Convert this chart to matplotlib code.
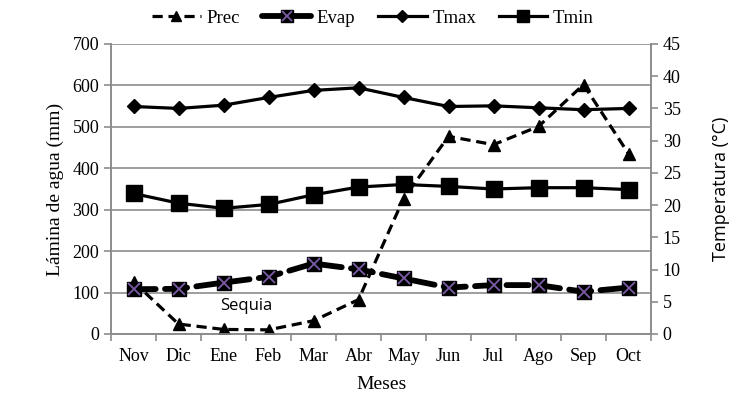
import numpy as np
import matplotlib
matplotlib.use("Agg")
import matplotlib.pyplot as plt
from matplotlib.legend_handler import HandlerTuple

# data
meses = ["Nov", "Dic", "Ene", "Feb", "Mar", "Abr", "May", "Jun", "Jul", "Ago", "Sep", "Oct"]
prec = [126, 24, 11, 10, 32, 83, 327, 477, 457, 501, 602, 435]      # mm
evap = [108, 109, 124, 138, 170, 156, 134, 112, 118, 118, 102, 112]  # mm
tmax = [35.3, 35.0, 35.5, 36.7, 37.8, 38.2, 36.7, 35.3, 35.4, 35.1, 34.8, 35.0]  # °C
tmin = [21.8, 20.3, 19.5, 20.1, 21.6, 22.8, 23.2, 22.9, 22.5, 22.7, 22.7, 22.4]  # °C
mm_ticks = list(range(0, 701, 100))
temp_ticks = list(range(0, 46, 5))

serif = "Liberation Serif"
sans = "Open Sans"
gray = "#8c8c8c"
purple = "#7b5aa6"

plt.rcParams["font.family"] = serif

x = np.arange(len(meses))

fig = plt.figure(figsize=(7.46, 4.08), dpi=100)
ax = fig.add_axes([0.1488, 0.1814, 0.7239, 0.7108])
ax2 = ax.twinx()

# left axis: precipitation and evaporation
p_line, = ax.plot(x, prec, color="black", linestyle=(0, (3.2, 1.8)), linewidth=2.3,
                  marker="^", markersize=9, zorder=3)
e_line, = ax.plot(x, evap, color="black", linestyle=(0, (3.8, 1.6)), linewidth=4.2,
                  dash_capstyle="round", marker="s", markersize=9.5, zorder=3)
e_x, = ax.plot(x, evap, linestyle="none", marker="x", markersize=8,
               markeredgecolor=purple, markeredgewidth=1.3, zorder=4)

# right axis: temperatures
tx_line, = ax2.plot(x, tmax, color="black", linewidth=2.3, marker="D", markersize=7.5)
tn_line, = ax2.plot(x, tmin, color="black", linewidth=2.3, marker="s", markersize=11)

ax.set_ylim(0, 700)
ax.set_yticks(mm_ticks)
ax.set_yticklabels([str(v) for v in mm_ticks], fontfamily=serif, fontsize=13)
ax2.set_ylim(0, 45)
ax2.set_yticks(temp_ticks)
ax2.set_yticklabels([str(v) for v in temp_ticks], fontfamily=serif, fontsize=13)
ax.set_xlim(-0.5, len(meses) - 0.5)

# category boundaries as ticks, names centred between them
ax.set_xticks(np.arange(-0.5, len(meses), 1.0))
ax.set_xticklabels([])
ax.set_xticks(x, minor=True)
ax.set_xticklabels(meses, minor=True, fontfamily=serif, fontsize=13)
ax.tick_params(axis="x", which="minor", length=0, pad=10)
ax.tick_params(axis="x", which="major", length=5, color=gray, width=1.2)

ax.grid(axis="y", color=gray, linewidth=1.2)
ax.set_axisbelow(True)

for a in (ax, ax2):
    for s in a.spines.values():
        s.set_color(gray)
        s.set_linewidth(1.2)
    a.spines["top"].set_visible(False)
    a.tick_params(axis="y", length=5, color=gray, width=1.2)

ax.set_ylabel("Lámina de agua (mm)", fontsize=14, labelpad=6)
ax.set_xlabel("Meses", fontsize=14, labelpad=8)
ax2.set_ylabel("Temperatura (°C)", fontfamily=sans, fontsize=13, labelpad=22)

ax.text(2.5, 67, "Sequia", fontfamily=sans, fontsize=12, ha="center", va="center")

fig.legend([p_line, (e_line, e_x), tx_line, tn_line], ["Prec", "Evap", "Tmax", "Tmin"],
           handler_map={tuple: HandlerTuple(ndivide=1)},
           loc="center", bbox_to_anchor=(0.5, 0.955), ncol=4, frameon=False,
           prop={"size": 13.5}, handlelength=2.6, columnspacing=1.2,
           handletextpad=0.3, markerscale=0.85)

fig.savefig("out.png", dpi=100)
